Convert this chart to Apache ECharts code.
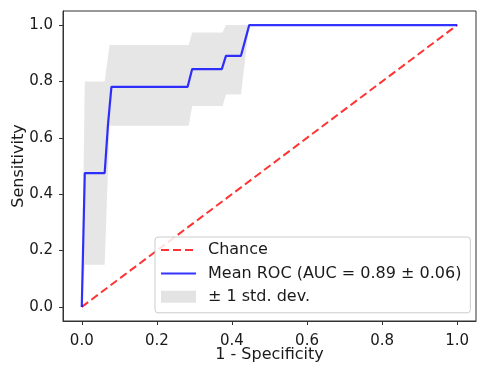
<!DOCTYPE html>
<html>
<head>
<meta charset="utf-8">
<script src="https://cdn.jsdelivr.net/npm/echarts@6/dist/echarts.min.js"></script>
<style>html,body{margin:0;padding:0;background:#fff}#c{width:477px;height:365px}</style>
</head>
<body>
<div id="c"></div>
<script>
// Mean ROC curve
var meanFpr = [0, 0.008, 0.061, 0.070, 0.079, 0.282, 0.294, 0.373, 0.384, 0.424, 0.446, 1.0];
var meanTpr = [0, 0.475, 0.475, 0.65, 0.781, 0.781, 0.844, 0.844, 0.891, 0.891, 1.0, 1.0];
// ±1 std band
var bandFpr   = [0, 0.008, 0.061, 0.074, 0.285, 0.294, 0.375, 0.384, 0.424, 0.446, 1.0];
var bandUpper = [0, 0.80, 0.80, 0.929, 0.929, 0.974, 0.974, 1.0, 1.0, 1.0, 1.0];
var bandLower = [0, 0.15, 0.15, 0.643, 0.643, 0.713, 0.713, 0.754, 0.754, 1.0, 1.0];
// chance line
var chanceX = [0, 1];
var chanceY = [0, 1];
var tickVals = [0, 0.2, 0.4, 0.6, 0.8, 1.0];
var seriesNames = ['Chance', 'Mean ROC (AUC = 0.89 \u00b1 0.06)', '\u00b1 1 std. dev.'];

var chart = echarts.init(document.getElementById('c'), null, {renderer: 'canvas'});
var font = 'DejaVu Sans';
var bandPoly = [];
for (var i = 0; i < bandFpr.length; i++) bandPoly.push([bandFpr[i], bandUpper[i]]);
for (var j = bandFpr.length - 1; j >= 0; j--) bandPoly.push([bandFpr[j], bandLower[j]]);

function axisCommon(name, gap, margin) {
  return {
    type: 'value', min: -0.05, max: 1.05,
    name: name, nameLocation: 'middle', nameGap: gap, nameMoveOverlap: false,
    nameTextStyle: {fontFamily: font, fontSize: 16, color: '#1a1a1a'},
    axisLine: {show: true, onZero: false, lineStyle: {color: '#333', width: 1}},
    axisTick: {show: true, customValues: tickVals, length: 4, inside: false, lineStyle: {color: '#333'}},
    axisLabel: {customValues: tickVals, fontFamily: font, fontSize: 15, color: '#1a1a1a', margin: margin,
      formatter: function (v) { return v.toFixed(1); }},
    splitLine: {show: false}
  };
}

var xAxis = axisCommon('1 - Specificity', 26, 13);
var yAxis = axisCommon('Sensitivity', 36, 10);

chart.setOption({
  animation: false,
  backgroundColor: '#fff',
  grid: {left: 63, right: 1, top: 11, bottom: 44, containLabel: false, outerBoundsMode: 'none',
    show: true, borderColor: '#333', borderWidth: 1, backgroundColor: 'transparent'},
  xAxis: xAxis,
  yAxis: yAxis,
  legend: {
    orient: 'vertical', left: 155, top: 237,
    backgroundColor: 'rgba(255,255,255,0.85)', borderColor: '#cccccc', borderWidth: 1, borderRadius: 3,
    padding: [5, 9, 8, 5],
    itemWidth: 35, itemHeight: 12, itemGap: 7.4,
    textStyle: {fontFamily: font, fontSize: 16, lineHeight: 16, color: '#1a1a1a', padding: [0, 0, 0, 7]},
    data: [
      {name: seriesNames[0], itemStyle: {opacity: 0}},
      {name: seriesNames[1], itemStyle: {opacity: 0}},
      {name: seriesNames[2], icon: 'rect', itemStyle: {color: 'rgba(128,128,128,0.22)'}}
    ]
  },
  series: [
    {
      name: seriesNames[2], type: 'custom', z: 1,
      itemStyle: {color: 'rgba(128,128,128,0.2)'},
      renderItem: function (params, api) {
        if (params.dataIndex !== 0) return null;
        var pts = bandPoly.map(function (p) { return api.coord(p); });
        return {type: 'polygon', shape: {points: pts}, style: {fill: 'rgba(128,128,128,0.2)', stroke: 'none'}};
      },
      data: [[0, 0]]
    },
    {
      name: seriesNames[0], type: 'line', z: 2, symbol: 'none',
      lineStyle: {color: 'rgba(255,0,0,0.8)', width: 2, type: [8, 4]},
      itemStyle: {color: 'rgba(255,0,0,0.8)'},
      data: chanceX.map(function (x, i) { return [x, chanceY[i]]; })
    },
    {
      name: seriesNames[1], type: 'line', z: 3, symbol: 'none',
      lineStyle: {color: 'rgba(0,0,255,0.8)', width: 2.2},
      itemStyle: {color: 'rgba(0,0,255,0.8)'},
      data: meanFpr.map(function (x, i) { return [x, meanTpr[i]]; })
    }
  ]
});
</script>
</body>
</html>
